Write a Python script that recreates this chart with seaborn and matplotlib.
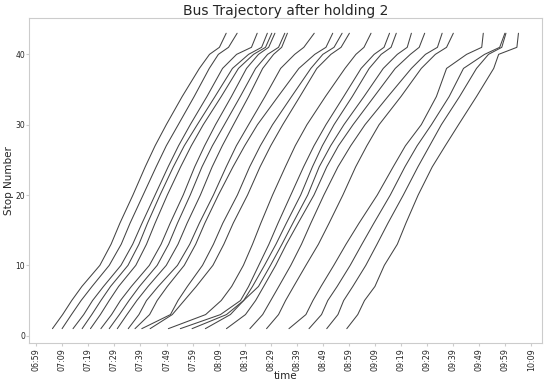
import numpy as np
import pandas as pd
import matplotlib
matplotlib.use("Agg")
import matplotlib.pyplot as plt
import matplotlib.ticker as ticker
import seaborn as sns

sns.set_style("white")
plt.rcParams["font.family"] = ["DejaVu Sans"]

# stop numbers at which each bus arrival time was read
STOPS = [1, 3, 5, 7, 10, 13, 16, 20, 24, 27, 30, 34, 38, 40, 41, 43]

# arrival times, minutes after 07:00
BUS_01 = [5.2, 9.1, 12.6, 16.5, 23.4, 27.7, 31.1, 36.1, 40.8, 44.6, 48.9, 55.0, 61.6, 65.5, 69.3, 71.9]
BUS_02 = [8.9, 12.5, 16.2, 20.4, 27.0, 31.6, 35.0, 40.0, 45.0, 48.9, 53.5, 59.6, 65.4, 68.9, 72.8, 76.1]
BUS_03 = [13.1, 17.2, 20.6, 24.8, 31.5, 36.0, 39.6, 44.6, 49.6, 53.6, 58.1, 64.5, 70.5, 75.9, 81.6, 83.8]
BUS_04 = [16.6, 20.3, 23.8, 27.5, 34.2, 38.4, 41.7, 46.5, 51.6, 55.8, 60.8, 67.6, 74.3, 80.5, 85.5, 87.7]
BUS_05 = [19.8, 23.6, 27.0, 30.6, 37.2, 41.3, 44.6, 49.3, 54.4, 58.5, 63.1, 70.0, 76.6, 82.4, 87.0, 89.4]
BUS_06 = [23.8, 27.9, 31.3, 35.5, 42.4, 46.9, 50.4, 55.4, 59.8, 63.6, 67.8, 73.9, 79.7, 84.3, 88.2, 90.6]
BUS_07 = [27.0, 30.9, 34.6, 38.6, 45.4, 49.8, 53.2, 58.1, 62.6, 66.6, 71.2, 77.3, 83.2, 87.8, 92.0, 94.4]
BUS_08 = [30.1, 33.8, 37.6, 41.9, 48.9, 53.4, 56.9, 62.0, 66.5, 70.4, 74.7, 80.5, 85.9, 90.1, 93.2, 95.4]
BUS_09 = [34.3, 38.4, 41.3, 45.8, 53.2, 57.9, 61.6, 67.0, 71.9, 75.8, 80.5, 86.8, 92.8, 98.2, 101.7, 105.7]
BUS_10 = [36.9, 42.5, 45.4, 49.3, 55.8, 60.2, 63.7, 68.9, 74.5, 79.0, 83.9, 91.8, 99.8, 105.9, 110.2, 112.8]
BUS_11 = [39.5, 50.5, 53.4, 57.0, 62.8, 67.0, 70.6, 76.2, 80.9, 85.0, 89.7, 97.0, 104.4, 109.0, 113.3, 116.4]
BUS_12 = [42.7, 51.2, 55.8, 60.4, 66.8, 71.0, 74.6, 80.1, 84.9, 89.0, 93.6, 100.2, 106.7, 112.1, 116.0, 119.2]
BUS_13 = [49.7, 64.0, 70.0, 74.0, 78.5, 82.0, 85.2, 89.7, 94.6, 98.4, 102.9, 110.0, 117.5, 121.7, 124.8, 127.5]
BUS_14 = [54.3, 69.7, 77.4, 80.5, 84.4, 88.3, 91.8, 96.7, 101.6, 105.6, 110.2, 117.0, 123.7, 128.7, 132.5, 134.6]
BUS_15 = [58.8, 72.0, 78.6, 82.0, 86.6, 91.0, 95.0, 100.5, 105.0, 108.8, 113.3, 120.3, 126.8, 131.4, 135.2, 137.2]
BUS_16 = [63.9, 73.5, 78.6, 84.3, 88.9, 93.3, 97.5, 103.2, 107.6, 112.0, 117.1, 124.8, 132.2, 137.6, 141.4, 143.0]
BUS_17 = [72.0, 79.3, 83.2, 86.3, 90.9, 95.0, 99.5, 105.6, 110.5, 115.0, 120.6, 128.7, 136.8, 142.6, 146.0, 148.1]
BUS_18 = [81.0, 85.9, 89.0, 92.1, 96.7, 100.8, 104.4, 109.4, 114.8, 119.7, 125.2, 134.0, 143.0, 148.4, 153.0, 154.8]
BUS_19 = [87.4, 92.0, 94.7, 97.8, 102.5, 107.3, 111.4, 116.7, 121.6, 125.9, 130.6, 139.0, 146.8, 152.2, 156.5, 159.1]
BUS_20 = [96.0, 102.5, 105.2, 108.3, 113.2, 117.9, 122.9, 129.9, 136.0, 140.7, 146.8, 152.6, 156.5, 164.2, 170.0, 170.6]
BUS_21 = [103.7, 108.5, 110.9, 114.5, 119.5, 124.0, 128.6, 134.9, 140.5, 145.2, 150.7, 157.5, 163.0, 171.1, 176.9, 178.9]
BUS_22 = [110.5, 114.8, 117.0, 120.5, 125.5, 129.8, 134.0, 139.9, 145.5, 150.0, 154.5, 161.5, 168.0, 172.6, 177.7, 179.3]
BUS_23 = [118.2, 122.4, 125.0, 129.0, 132.6, 137.6, 140.9, 145.6, 151.0, 156.0, 161.1, 168.0, 174.6, 176.5, 183.5, 184.1]

buses = [BUS_01, BUS_02, BUS_03, BUS_04, BUS_05, BUS_06, BUS_07, BUS_08,
         BUS_09, BUS_10, BUS_11, BUS_12, BUS_13, BUS_14, BUS_15, BUS_16,
         BUS_17, BUS_18, BUS_19, BUS_20, BUS_21, BUS_22, BUS_23]

df = pd.concat([pd.DataFrame({"bus": i, "time": times, "stop": STOPS})
                for i, times in enumerate(buses)], ignore_index=True)

fig, ax = plt.subplots(figsize=(5.5, 3.85), dpi=100)
fig.subplots_adjust(left=0.053, right=0.985, top=0.952, bottom=0.108)

sns.lineplot(data=df, x="time", y="stop", units="bus", estimator=None,
             sort=False, color="#444444", lw=0.75, ax=ax)

# ticks every 10 minutes starting 06:59
xt = np.arange(-1, 190, 10)
ax.set_xticks(xt)
ax.xaxis.set_major_formatter(
    ticker.FuncFormatter(lambda m, _: f"{int(420 + m) // 60:02d}:{int(420 + m) % 60:02d}"))
ax.set_yticks([0, 10, 20, 30, 40])
ax.tick_params(axis="x", labelsize=5.8, rotation=90, length=2, bottom=True, color=".8", pad=1.5)
ax.tick_params(axis="y", labelsize=5.5, length=2, left=True, color=".8", pad=1)

ax.set_xlabel("time", fontsize=7.5, labelpad=0)
ax.set_ylabel("Stop Number", fontsize=7.5, labelpad=1)
ax.set_title("Bus Trajectory after holding 2", fontsize=10, pad=2.5)

for sp in ax.spines.values():
    sp.set_color(".8")

plt.savefig("out.png", dpi=100)
plt.close()
